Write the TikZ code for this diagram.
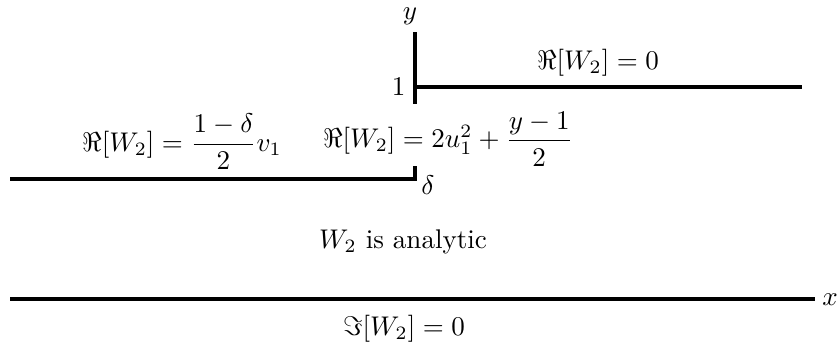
\documentclass[tikz,border=0pt]{standalone}
\usepackage{amsmath,amssymb}
\begin{document}
\begin{tikzpicture}[x=0.37pt,y=-0.37pt,
  wall/.style={line width=1.2pt},
  lbl/.style={inner sep=0pt}]
\useasboundingbox (0,0) rectangle (840,354);
\coordinate (ytop) at (415,32);
\coordinate (ybot) at (415,104);
\coordinate (one) at (415,87);
\coordinate (rend) at (802,87);
\coordinate (lleft) at (10,179);
\coordinate (lright) at (415,179);
\coordinate (tick) at (415,166);
\coordinate (xl) at (10,299);
\coordinate (xr) at (815,299);
\draw[wall] (ytop) -- (ybot);
\draw[wall] (one) -- (rend);
\draw[wall] (lleft) -- (lright) -- (tick);
\draw[wall] (xl) -- (xr);
\node[lbl] (ylab) at (410,16) {$y$};
\node[lbl,anchor=east] (onelab) at (406,87) {$1$};
\node[lbl] (dlab) at (428,185) {$\delta$};
\node[lbl] (xlab) at (830,300) {$x$};
\node[lbl] (top) at (598,63) {$\Re[W_2]=0$};
\node[lbl] (left) at (182,142) {$\Re[W_2]=\dfrac{1-\delta}{2}v_1$};
\node[lbl] (mid) at (448,139) {$\Re[W_2]=2u_1^2+\dfrac{y-1}{2}$};
\node[lbl] (an) at (403,242) {$W_2$ is analytic};
\node[lbl] (im) at (404,329) {$\Im[W_2]=0$};
\end{tikzpicture}
\end{document}
